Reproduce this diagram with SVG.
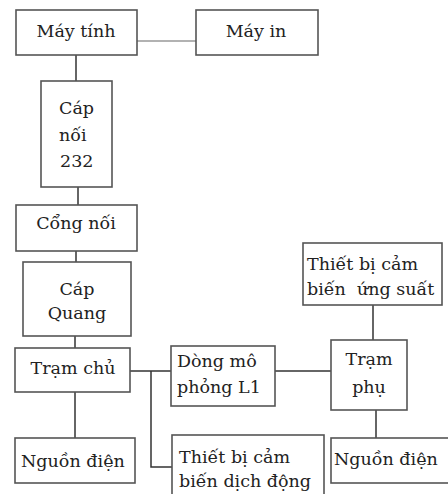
<svg xmlns="http://www.w3.org/2000/svg" width="448" height="494" viewBox="0 0 448 494">
<style>
.box{fill:#fff;stroke:#555;stroke-width:1.6}
.t{font-family:'DejaVu Serif','Liberation Serif',serif;font-size:17.5px;fill:#222}
.c{text-anchor:middle}
.ln{fill:none;stroke:#333;stroke-width:1.5}
.lg{fill:none;stroke:#999;stroke-width:1.5}
</style>
<rect width="448" height="494" fill="#fff"/>
<g id="connectors">
<line class="lg" x1="137" y1="41" x2="196" y2="41"/>
<line class="ln" x1="76" y1="55" x2="76" y2="81"/>
<line class="ln" x1="78" y1="187" x2="78" y2="205"/>
<line class="ln" x1="76" y1="251" x2="76" y2="262"/>
<line class="ln" x1="75" y1="336" x2="75" y2="348"/>
<line class="ln" x1="75" y1="392" x2="75" y2="438"/>
<line class="ln" x1="130" y1="371" x2="171" y2="371"/>
<polyline class="ln" points="151,371 151,467 172,467"/>
<line class="ln" x1="275" y1="371" x2="331" y2="371"/>
<line class="ln" x1="373" y1="305" x2="373" y2="340"/>
<line class="ln" x1="376" y1="410" x2="376" y2="438"/>
</g>
<g id="may-tinh"><rect class="box" x="16" y="10" width="121" height="45"/><text class="t c" x="76" y="37">Máy tính</text></g>
<g id="may-in"><rect class="box" x="196" y="10" width="122" height="45"/><text class="t c" x="256" y="37">Máy in</text></g>
<g id="cap-noi-232"><rect class="box" x="41" y="81" width="71" height="106"/><text class="t" x="59" y="114">Cáp</text><text class="t" x="59" y="141">nối</text><text class="t" x="60" y="167">232</text></g>
<g id="cong-noi"><rect class="box" x="16" y="205" width="121" height="46"/><text class="t c" x="76" y="229">Cổng nối</text></g>
<g id="cap-quang"><rect class="box" x="23" y="262" width="108" height="74"/><text class="t c" x="77" y="295">Cáp</text><text class="t c" x="77" y="319">Quang</text></g>
<g id="thiet-bi-ung-suat"><rect class="box" x="303" y="243" width="139" height="62"/><text class="t" x="307" y="270">Thiết bị cảm</text><text class="t" x="307" y="295" xml:space="preserve">biến  ứng suất</text></g>
<g id="tram-chu"><rect class="box" x="15" y="348" width="115" height="44"/><text class="t c" x="73" y="374">Trạm chủ</text></g>
<g id="dong-mo-phong"><rect class="box" x="171" y="346" width="104" height="60"/><text class="t" x="177" y="367">Dòng mô</text><text class="t" x="177" y="393">phỏng L1</text></g>
<g id="tram-phu"><rect class="box" x="331" y="340" width="76" height="70"/><text class="t c" x="369" y="365">Trạm</text><text class="t c" x="369" y="393">phụ</text></g>
<g id="nguon-dien-1"><rect class="box" x="15" y="438" width="120" height="45"/><text class="t" x="21" y="467">Nguồn điện</text></g>
<g id="thiet-bi-dich-dong"><rect class="box" x="172" y="435" width="152" height="70"/><text class="t" x="179" y="463">Thiết bị cảm</text><text class="t" x="179" y="487">biến dịch động</text></g>
<g id="nguon-dien-2"><rect class="box" x="331" y="438" width="125" height="45"/><text class="t" x="334" y="465">Nguồn điện</text></g>
</svg>
